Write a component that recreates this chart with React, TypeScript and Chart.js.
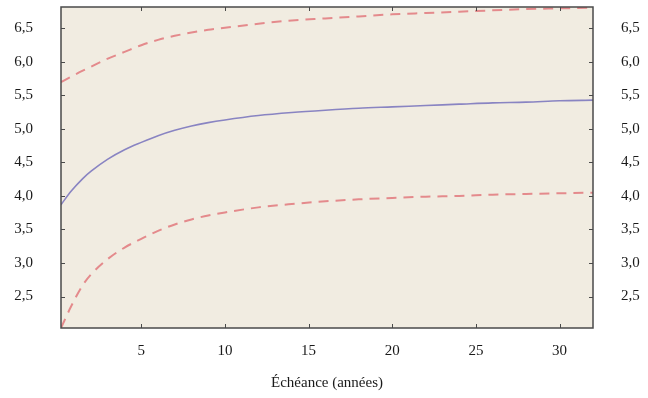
import React, { useEffect, useRef } from "react";
import { Chart, registerables } from "chart.js";

Chart.register(...registerables);

const maturities = [0.2, 0.8, 1.5, 2, 3, 4, 5, 6, 7, 8, 9, 10, 12, 14, 16, 18, 20, 22, 24, 26, 28, 30, 32];
const centralCurve = [3.87, 4.07, 4.26, 4.37, 4.55, 4.69, 4.80, 4.90, 4.98, 5.045, 5.095, 5.135, 5.20, 5.245, 5.28, 5.31, 5.33, 5.35, 5.37, 5.39, 5.40, 5.42, 5.43];
const upperBand = [5.70, 5.78, 5.87, 5.93, 6.05, 6.15, 6.25, 6.33, 6.39, 6.44, 6.48, 6.51, 6.57, 6.62, 6.65, 6.68, 6.71, 6.73, 6.75, 6.77, 6.79, 6.80, 6.81];
const lowerBand = [2.03, 2.35, 2.67, 2.83, 3.06, 3.23, 3.36, 3.48, 3.575, 3.65, 3.71, 3.755, 3.83, 3.88, 3.92, 3.95, 3.97, 3.99, 4.00, 4.02, 4.03, 4.04, 4.05];
const xTicks = [5, 10, 15, 20, 25, 30];
const yTicks = [2.5, 3.0, 3.5, 4.0, 4.5, 5.0, 5.5, 6.0, 6.5];
const xTitle = "Échéance (années)";

const X_MIN = 0.2;
const X_MAX = 32;
const Y_MIN = 2.03;
const Y_MAX = 6.82;

const FONT = { family: "'Liberation Serif', serif", size: 15 };
const FRAME = "#4a4a4a";

const toPts = (ys: number[]) => maturities.map((x, i) => ({ x, y: ys[i] }));

const framePlugin = {
  id: "frame",
  beforeDatasetsDraw(chart: any) {
    const { ctx, chartArea: a } = chart;
    ctx.save();
    ctx.fillStyle = "#f1ece1";
    ctx.fillRect(a.left, a.top, a.right - a.left, a.bottom - a.top);
    ctx.restore();
  },
  afterDatasetsDraw(chart: any) {
    const { ctx, chartArea: a, scales } = chart;
    ctx.save();
    ctx.strokeStyle = FRAME;
    ctx.lineWidth = 1;
    const tl = 4;
    ctx.beginPath();
    for (const v of xTicks) {
      const px = Math.round(scales.x.getPixelForValue(v)) + 0.5;
      ctx.moveTo(px, a.bottom);
      ctx.lineTo(px, a.bottom - tl);
      ctx.moveTo(px, a.top);
      ctx.lineTo(px, a.top + tl);
    }
    for (const v of yTicks) {
      const py = Math.round(scales.y.getPixelForValue(v)) + 0.5;
      ctx.moveTo(a.left, py);
      ctx.lineTo(a.left + tl, py);
      ctx.moveTo(a.right, py);
      ctx.lineTo(a.right - tl, py);
    }
    ctx.stroke();
    ctx.lineWidth = 1.5;
    ctx.strokeRect(a.left, a.top, a.right - a.left, a.bottom - a.top);
    ctx.restore();
  },
};

const fmt = (v: number) => v.toFixed(1).replace(".", ",");

export default function App() {
  const ref = useRef<HTMLCanvasElement>(null);

  useEffect(() => {
    if (!ref.current) return;
    const yScale = (position: "left" | "right") => ({
      type: "linear" as const,
      position,
      min: Y_MIN,
      max: Y_MAX,
      afterBuildTicks: (s: any) => {
        s.ticks = yTicks.map((value) => ({ value }));
      },
      afterFit: (s: any) => {
        s.width = position === "left" ? 61 : 55;
        s.paddingTop = 0;
        s.paddingBottom = 0;
      },
      grid: { display: false, drawTicks: false },
      border: { display: false },
      ticks: {
        font: FONT,
        color: "#1a1a1a",
        padding: 28,
        callback: (v: any) => fmt(Number(v)),
      },
    });

    const chart = new Chart(ref.current, {
      type: "line",
      data: {
        datasets: [
          {
            data: toPts(upperBand),
            borderColor: "#e48a8c",
            borderWidth: 2,
            borderDash: [10, 7],
            pointRadius: 0,
            cubicInterpolationMode: "monotone",
            yAxisID: "y",
          },
          {
            data: toPts(lowerBand),
            borderColor: "#e48a8c",
            borderWidth: 2,
            borderDash: [10, 7],
            pointRadius: 0,
            cubicInterpolationMode: "monotone",
            yAxisID: "y",
          },
          {
            data: toPts(centralCurve),
            borderColor: "#8984c2",
            borderWidth: 1.6,
            pointRadius: 0,
            cubicInterpolationMode: "monotone",
            yAxisID: "y",
          },
        ],
      },
      options: {
        animation: false,
        responsive: false,
        maintainAspectRatio: false,
        layout: { padding: { top: 7, left: 0, right: 0, bottom: 0 } },
        plugins: { legend: { display: false }, tooltip: { enabled: false } },
        scales: {
          x: {
            type: "linear",
            min: X_MIN,
            max: X_MAX,
            afterBuildTicks: (s: any) => {
              s.ticks = xTicks.map((value) => ({ value }));
            },
            afterFit: (s: any) => {
              s.height = 70;
              s.paddingLeft = 0;
              s.paddingRight = 0;
            },
            grid: { display: false, drawTicks: false },
            border: { display: false },
            ticks: { font: FONT, color: "#1a1a1a", padding: 14, maxRotation: 0 },
            title: {
              display: true,
              text: xTitle,
              font: FONT,
              color: "#1a1a1a",
              padding: { top: 0, bottom: 6 },
            },
          },
          y: yScale("left"),
          y2: yScale("right"),
        },
      },
      plugins: [framePlugin],
    });
    return () => chart.destroy();
  }, []);

  return (
    <div style={{ position: "fixed", left: 0, top: 0, width: 648, height: 398, background: "#fff" }}>
      <canvas ref={ref} width={648} height={398} style={{ display: "block" }} />
    </div>
  );
}
